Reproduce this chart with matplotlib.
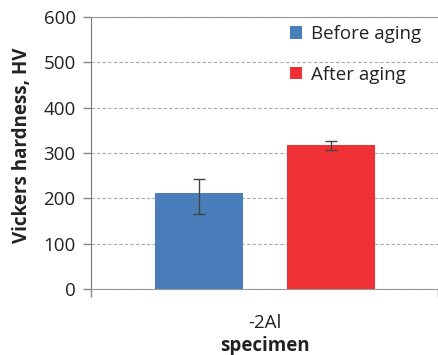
import matplotlib.pyplot as plt

# data
series = ['Before aging', 'After aging']
hardness = [211, 317]
err_low = [45, 10]
err_high = [31, 10]
category = '-2Al'
colors = ['#4a7ebb', '#ef3035']

plt.rcParams['font.family'] = ['Open Sans', 'DejaVu Sans']
fs = 13.5

fig = plt.figure(figsize=(4.39, 3.55), dpi=100)
ax = fig.add_axes([91 / 439, 66 / 355, 347 / 439, 272 / 355])

offsets = [-0.375, 0.385]
width = 0.507
for i in range(len(series)):
    ax.bar(offsets[i], hardness[i], width, color=colors[i], label=series[i], zorder=3,
           yerr=[[err_low[i]], [err_high[i]]], capsize=4,
           error_kw=dict(ecolor='#444444', elinewidth=1, capthick=1))

ax.set_xlim(-1, 1)
ax.set_ylim(0, 600)
ax.set_yticks(range(0, 601, 100))
ax.set_xticks([-1, 1])
ax.set_xticklabels(['', ''])
ax.tick_params(axis='both', direction='out', length=6, width=1, color='#888888',
               labelsize=fs, labelcolor='#222222')
ax.tick_params(axis='y', pad=5)

ax.yaxis.grid(True, linestyle=(0, (3, 2)), color='#aaaaaa', linewidth=0.8, zorder=0)
ax.spines['top'].set_color('#999999')
ax.spines['right'].set_visible(False)
ax.spines['left'].set_color('#777777')
ax.spines['bottom'].set_color('#999999')

# category label under the group
ax.text(0.5, -0.125, category, transform=ax.transAxes, fontsize=fs, ha='center',
        va='center', color='#222222')
ax.set_xlabel('specimen', fontsize=fs, fontweight='bold', color='#222222')
ax.xaxis.set_label_coords(0.5, -0.208)
ax.set_ylabel('Vickers hardness, HV', fontsize=fs, fontweight='bold', color='#222222')
ax.yaxis.set_label_coords(-0.2, 0.53)
ax.xaxis.label.set_va('center')
ax.yaxis.label.set_va('center')

fig.legend(loc='upper left', bbox_to_anchor=(290 / 439, 1 - 25 / 355), frameon=False,
           fontsize=fs, handlelength=0.65, handleheight=0.65, handletextpad=0.45,
           labelspacing=1.2, borderpad=0, borderaxespad=0, labelcolor='#222222')

plt.savefig('out.png', dpi=100)
